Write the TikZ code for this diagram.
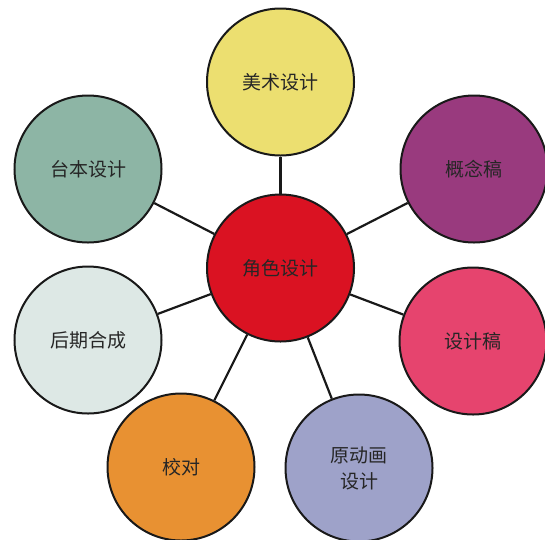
\documentclass[tikz,border=0pt]{standalone}
\usepackage{fontspec}
\setmainfont{Noto Sans CJK SC}
\begin{document}
\begin{tikzpicture}[x=1pt,y=-1pt,
  bubble/.style={circle, draw=black!90, line width=2pt, minimum size=147pt, inner sep=0pt,
    text=black!85, font=\fontsize{19}{26}\selectfont, align=center},
  link/.style={draw=black!90, line width=2.2pt}]
\useasboundingbox (0,0) rectangle (545,539);
\definecolor{cyellow}{RGB}{236,223,112}
\definecolor{cgreen}{RGB}{141,181,165}
\definecolor{cpurple}{RGB}{153,58,126}
\definecolor{cred}{RGB}{218,18,34}
\definecolor{cpale}{RGB}{221,232,229}
\definecolor{cpink}{RGB}{230,68,110}
\definecolor{corange}{RGB}{232,145,50}
\definecolor{clav}{RGB}{158,162,201}
\node[bubble, fill=cred] (c) at (280.5,268) {角色设计};
\node[bubble, fill=cyellow] (t) at (280.5,82) {美术设计};
\node[bubble, fill=cgreen] (tl) at (88,169) {台本设计};
\node[bubble, fill=cpurple] (tr) at (474,169) {概念稿};
\node[bubble, fill=cpale] (bl) at (88,340) {后期合成};
\node[bubble, fill=cpink] (br) at (473,341) {设计稿};
\node[bubble, fill=corange] (b1) at (181,467) {校对};
\node[bubble, fill=clav] (b2) at (359,468) {原动画\\设计};
\foreach \n in {t,tl,tr,bl,br,b1,b2} \draw[link] (c) -- (\n);
\end{tikzpicture}
\end{document}
